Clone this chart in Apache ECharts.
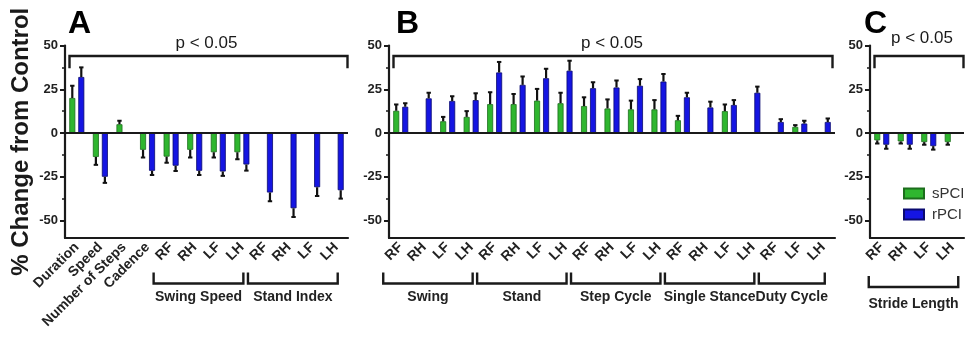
<!DOCTYPE html>
<html><head><meta charset="utf-8">
<script src="https://cdn.jsdelivr.net/npm/echarts@6/dist/echarts.min.js"></script>
<style>html,body{margin:0;padding:0;background:#fff}#c{width:966px;height:339px}</style>
</head><body><div id="c"></div>
<script>
// ---------- data ----------
const catsA = ['Duration','Speed','Number of Steps','Cadence','RF','RH','LF','LH','RF','RH','LF','LH'];
const sPCI_A = [20, -13.7, 5, -9.6, -13.5, -9.6, -11, -11, null, null, null, null];
const sPCI_A_sem = [7, 4.5, 2, 4.4, 3.5, 4.4, 3, 4, null, null, null, null];
const rPCI_A = [32, -25, null, -21.6, -18.7, -21.6, -22, -18, -34, -43, -31, -32.7];
const rPCI_A_sem = [5.5, 3.5, null, 2.4, 3, 2.4, 2.5, 3.5, 5, 5, 5, 4.8];

const catsB = ['RF','RH','LF','LH','RF','RH','LF','LH','RF','RH','LF','LH','RF','RH','LF','LH','RF','LF','LH'];
const sPCI_B = [12.7, null, 6.7, 9.2, 16.5, 16.5, 18.5, 17, 15.4, 14, 13.5, 13.5, 7.3, null, 12.5, null, null, 3.5, null];
const sPCI_B_sem = [3.6, null, 2.5, 3.3, 6.8, 5.8, 6.7, 6, 5, 5.2, 5, 5.3, 2.5, null, 3.8, null, null, 1, null];
const rPCI_B = [15, 19.8, 18.3, 18.8, 34.6, 27.5, 31.3, 35.6, 25.6, 26, 27, 29.4, 20.4, 14.6, 16, 23, 6.3, 5.4, 6.3];
const rPCI_B_sem = [2, 3.2, 2.7, 3.9, 6, 4.8, 5.4, 5.7, 3.4, 4, 3.8, 4.3, 2.6, 3.3, 2.8, 3.5, 1.6, 1.6, 2];

const catsC = ['RF','RH','LF','LH'];
const sPCI_C = [-4.2, -4.8, -5.2, -5.2];
const sPCI_C_sem = [1.8, 1.2, 1.5, 1.5];
const rPCI_C = [-6.7, -6.7, -7.5, null];
const rPCI_C_sem = [2.3, 2.3, 2, null];

const yTicks = [-50, -25, 0, 25, 50];
const yMinorTicks = [-37.5, -12.5, 12.5, 37.5];
const yMin = -60, yMax = 50;

const groupsA = [{name:'Swing Speed', from:4, to:7}, {name:'Stand Index', from:8, to:11}];
const groupsB = [{name:'Swing', from:0, to:3}, {name:'Stand', from:4, to:7}, {name:'Step Cycle', from:8, to:11},
                 {name:'Single Stance', from:12, to:15}, {name:'Duty Cycle', from:16, to:18}];
const groupsC = [{name:'Stride Length', from:0, to:3}];
const panelLetters = ['A','B','C'];
const sigText = 'p < 0.05';

// ---------- style ----------
const FONT = 'Liberation Sans, Arial, sans-serif';
const GREEN = '#2fb62f', GREEN_B = '#1c6e1c';
const BLUE = '#1515e2', BLUE_B = '#0a0a70';
const INK = '#1a1a1a';
const grids = [
  {left: 65, top: 45.5, width: 283, height: 192.5},
  {left: 389, top: 45.5, width: 446, height: 192.5},
  {left: 870, top: 45.5, width: 94, height: 192.5}
];
const cats = [catsA, catsB, catsC];

const chart = echarts.init(document.getElementById('c'), null, {renderer: 'canvas'});

const xAxes = cats.map((c, i) => ({
  type: 'category', gridIndex: i, data: c, position: 'bottom',
  axisLine: {onZero: false, lineStyle: {color: INK, width: 2.2}},
  axisTick: {alignWithLabel: true, length: 5, lineStyle: {color: INK, width: 2}},
  axisLabel: {rotate: 45, margin: 7, interval: 0, fontSize: 14, fontWeight: 'bold', color: '#222', fontFamily: FONT},
  splitLine: {show: false}
}));
const yAxes = [];
for (let i = 0; i < 3; i++) {
  yAxes.push({
    type: 'value', gridIndex: i, min: yMin, max: yMax,
    name: i === 0 ? '% Change from Control' : '',
    nameLocation: 'middle', nameGap: 32, nameRotate: 90,
    nameTextStyle: {fontSize: 24, fontWeight: 'bold', color: INK, fontFamily: FONT},
    axisLine: {show: true, lineStyle: {color: INK, width: 2.2}},
    axisTick: {show: true, length: 5, customValues: yTicks, lineStyle: {color: INK, width: 2}},
    axisLabel: {customValues: yTicks, margin: 7, fontSize: 13, fontWeight: 'bold', color: '#222', fontFamily: FONT},
    splitLine: {show: false}
  });
}
for (let i = 0; i < 3; i++) {
  yAxes.push({
    type: 'value', gridIndex: i, min: yMin, max: yMax, position: 'left',
    axisLine: {show: false},
    axisTick: {show: true, length: 3, customValues: yMinorTicks, lineStyle: {color: INK, width: 1.5}},
    axisLabel: {show: false}, splitLine: {show: false}
  });
}

function bars(name, data, i, color, border, withZero) {
  const s = {
    type: 'bar', name, xAxisIndex: i, yAxisIndex: i, data, barWidth: 6, barGap: '50%',
    itemStyle: {color, borderColor: border, borderWidth: 0.8}, silent: true, z: 2
  };
  if (withZero) {
    s.markLine = {symbol: 'none', silent: true, label: {show: false}, animation: false,
      lineStyle: {color: INK, width: 2, type: 'solid'}, data: [{yAxis: 0}]};
  }
  return s;
}
function errs(name, vals, sems, i, offset) {
  const data = [];
  vals.forEach((v, k) => { if (v != null && sems[k] != null) data.push([k, v, sems[k]]); });
  return {
    type: 'custom', name, xAxisIndex: i, yAxisIndex: i, data, silent: true, z: 3,
    renderItem: (params, api) => {
      const k = api.value(0), v = api.value(1), s = api.value(2);
      const dir = v >= 0 ? 1 : -1;
      const p0 = api.coord([k, v]);
      const p1 = api.coord([k, v + dir * s]);
      const x = p0[0] + offset;
      return {type: 'group', children: [
        {type: 'line', shape: {x1: x, y1: p0[1], x2: x, y2: p1[1]}, style: {stroke: '#111', lineWidth: 2.2}},
        {type: 'line', shape: {x1: x - 2.2, y1: p1[1], x2: x + 2.2, y2: p1[1]}, style: {stroke: '#111', lineWidth: 2}}
      ]};
    }
  };
}
const S = [[sPCI_A, sPCI_A_sem], [sPCI_B, sPCI_B_sem], [sPCI_C, sPCI_C_sem]];
const R = [[rPCI_A, rPCI_A_sem], [rPCI_B, rPCI_B_sem], [rPCI_C, rPCI_C_sem]];
const series = [];
for (let i = 0; i < 3; i++) {
  series.push(bars('sPCI', S[i][0], i, GREEN, GREEN_B, true));
  series.push(bars('rPCI', R[i][0], i, BLUE, BLUE_B, false));
  series.push(errs('sPCI err', S[i][0], S[i][1], i, -4.5));
  series.push(errs('rPCI err', R[i][0], R[i][1], i, 4.5));
}

chart.setOption({
  animation: false,
  backgroundColor: '#fff',
  grid: grids,
  xAxis: xAxes,
  yAxis: yAxes,
  legend: {
    data: ['sPCI', 'rPCI'], orient: 'vertical', left: 903, top: 186, padding: 0,
    icon: 'rect', itemWidth: 20, itemHeight: 10, itemGap: 6,
    textStyle: {fontSize: 15, color: '#333', fontFamily: FONT, padding: [0, 0, 0, 3]},
    selectedMode: false
  },
  series
});

// ---------- annotations (brackets, labels) ----------
const gfx = [];
const groupSets = [groupsA, groupsB, groupsC];
const letterX = [68, 396, 864];
for (let i = 0; i < 3; i++) {
  const g = grids[i];
  const yb = chart.convertToPixel({yAxisIndex: i}, 44);
  const ye = chart.convertToPixel({yAxisIndex: i}, 37);
  const yt = chart.convertToPixel({yAxisIndex: i}, i === 2 ? 54 : 51.5);
  const x1 = g.left + 4.5, x2 = g.left + g.width - (i === 1 ? 2.5 : 0.5);
  gfx.push({type: 'polyline', silent: true, shape: {points: [[x1, ye], [x1, yb], [x2, yb], [x2, ye]]},
    style: {stroke: INK, lineWidth: 2.4, fill: null}});
  gfx.push({type: 'text', silent: true, x: i === 2 ? 922 : g.left + g.width / 2, y: yt,
    style: {text: sigText, font: '17px ' + FONT, fill: INK, align: 'center', verticalAlign: 'middle'}});
  gfx.push({type: 'text', silent: true, x: letterX[i], y: 24,
    style: {text: panelLetters[i], font: 'bold 32px ' + FONT, fill: '#000', align: 'left', verticalAlign: 'middle'}});
  const yBr = i === 2 ? 287 : 283.5, yTop = yBr - 11, yTxt = i === 2 ? 304 : 297.5;
  groupSets[i].forEach(gr => {
    const a = chart.convertToPixel({xAxisIndex: i}, gr.from) - (i === 2 ? 13 : 17.5);
    const b = chart.convertToPixel({xAxisIndex: i}, gr.to) + (i === 2 ? 6 : 1.5);
    gfx.push({type: 'polyline', silent: true, shape: {points: [[a, yTop], [a, yBr], [b, yBr], [b, yTop]]},
      style: {stroke: INK, lineWidth: 2.4, fill: null}});
    gfx.push({type: 'text', silent: true, x: (a + b) / 2, y: yTxt,
      style: {text: gr.name, font: 'bold 14px ' + FONT, fill: '#222', align: 'center', verticalAlign: 'middle'}});
  });
}
chart.setOption({graphic: {elements: gfx}});
</script></body></html>
